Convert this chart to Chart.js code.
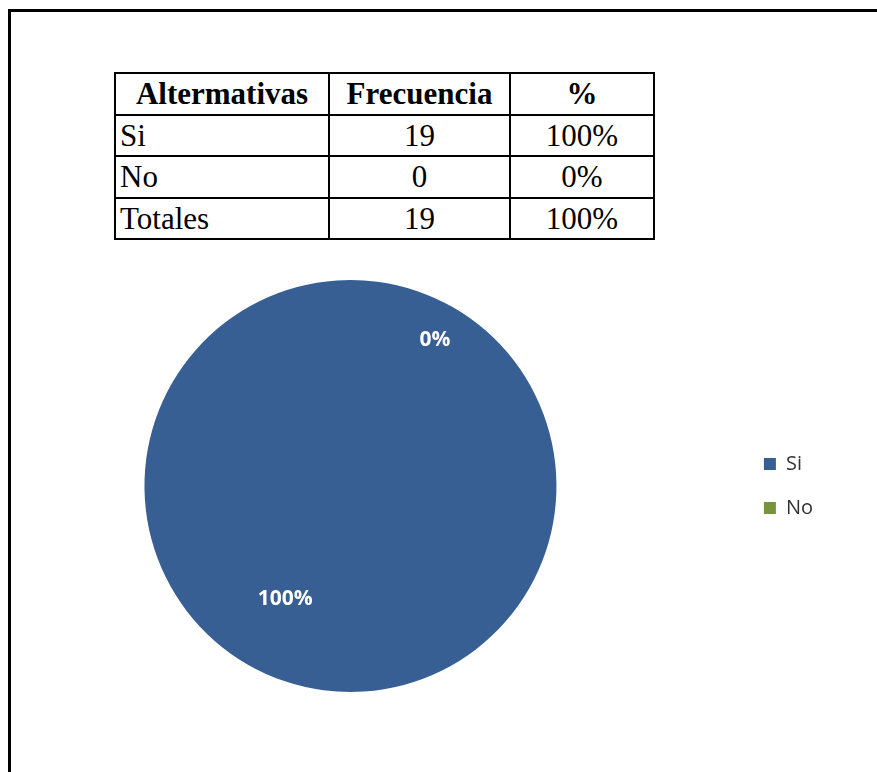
<!DOCTYPE html>
<html>
<head>
<meta charset="utf-8">
<script src="https://cdn.jsdelivr.net/npm/chart.js@4.4.1/dist/chart.umd.min.js"></script>
<style>
  body { margin: 0; background: #fff; width: 877px; height: 772px; overflow: hidden; position: relative; }
  #marco { position: absolute; left: 8px; top: 9px; width: 900px; height: 800px;
           border-left: 3px solid #000; border-top: 3px solid #000; }
  #tabla { position: absolute; left: 114px; top: 72px; border-collapse: collapse;
           font-family: "Liberation Serif", "Times New Roman", serif; font-size: 31px; color: #000; }
  #tabla td, #tabla th { border: 2px solid #000; height: 41.5px; padding: 0 5px; line-height: 1; box-sizing: border-box; }
  #tabla th { font-weight: bold; text-align: center; }
  #tabla td { text-align: center; }
  #tabla td:first-child { text-align: left; padding-left: 4px; }
  #grafico { position: absolute; left: -39px; top: 0; }
</style>
</head>
<body>
<div id="marco"></div>
<table id="tabla"></table>
<canvas id="grafico" width="862" height="772"></canvas>
<script>
var encabezados = ['Altermativas', 'Frecuencia', '%'];
var alternativas = ['Si', 'No'];
var frecuencia = [19, 0];
var etiquetaTotal = 'Totales';
var colores = ['#375F93', '#77933C'];

var total = frecuencia.reduce(function(a, b) { return a + b; }, 0);
var porcentajes = frecuencia.map(function(v) { return Math.round(v / total * 100); });

// tabla de frecuencias
var anchos = [214, 181, 144];
var tabla = document.getElementById('tabla');
var html = '<tr>' + encabezados.map(function(h, i) {
  return '<th style="width:' + anchos[i] + 'px">' + h + '</th>';
}).join('') + '</tr>';
alternativas.forEach(function(a, i) {
  html += '<tr><td>' + a + '</td><td>' + frecuencia[i] + '</td><td>' + porcentajes[i] + '%</td></tr>';
});
html += '<tr><td>' + etiquetaTotal + '</td><td>' + total + '</td><td>' +
  porcentajes.reduce(function(a, b) { return a + b; }, 0) + '%</td></tr>';
tabla.innerHTML = html;

const etiquetas = {
  id: 'etiquetas',
  afterDatasetsDraw: (chart) => {
    const {ctx} = chart;
    const meta = chart.getDatasetMeta(0);
    ctx.save();
    ctx.font = 'bold 21px "Open Sans"';
    ctx.fillStyle = '#ffffff';
    ctx.textAlign = 'center';
    ctx.textBaseline = 'middle';
    meta.data.forEach((arc, i) => {
      const p = arc.getProps(['x', 'y', 'startAngle', 'endAngle', 'outerRadius'], true);
      const mid = (p.startAngle + p.endAngle) / 2;
      const r = p.outerRadius * (frecuencia[i] > 0 ? 0.634 : 0.82);
      ctx.fillText(porcentajes[i] + '%', p.x + Math.cos(mid) * r, p.y + Math.sin(mid) * r);
    });
    ctx.restore();
  }
};

var config = {
  type: 'pie',
  data: {
    labels: alternativas,
    datasets: [{
      data: frecuencia,
      backgroundColor: colores,
      borderWidth: 0
    }]
  },
  options: {
    responsive: false,
    animation: false,
    rotation: 30,
    layout: { padding: { top: 280, bottom: 80, left: 0, right: 0 } },
    plugins: {
      tooltip: { enabled: false },
      legend: {
        position: 'right',
        align: 'center',
        labels: {
          boxWidth: 12,
          boxHeight: 12,
          padding: 24,
          color: '#333333',
          font: { family: 'Open Sans', size: 20 }
        }
      }
    }
  },
  plugins: [etiquetas]
};

window.onload = function() {
  var ctx = document.getElementById('grafico').getContext('2d');
  window.grafico = new Chart(ctx, config);
};
</script>
</body>
</html>
